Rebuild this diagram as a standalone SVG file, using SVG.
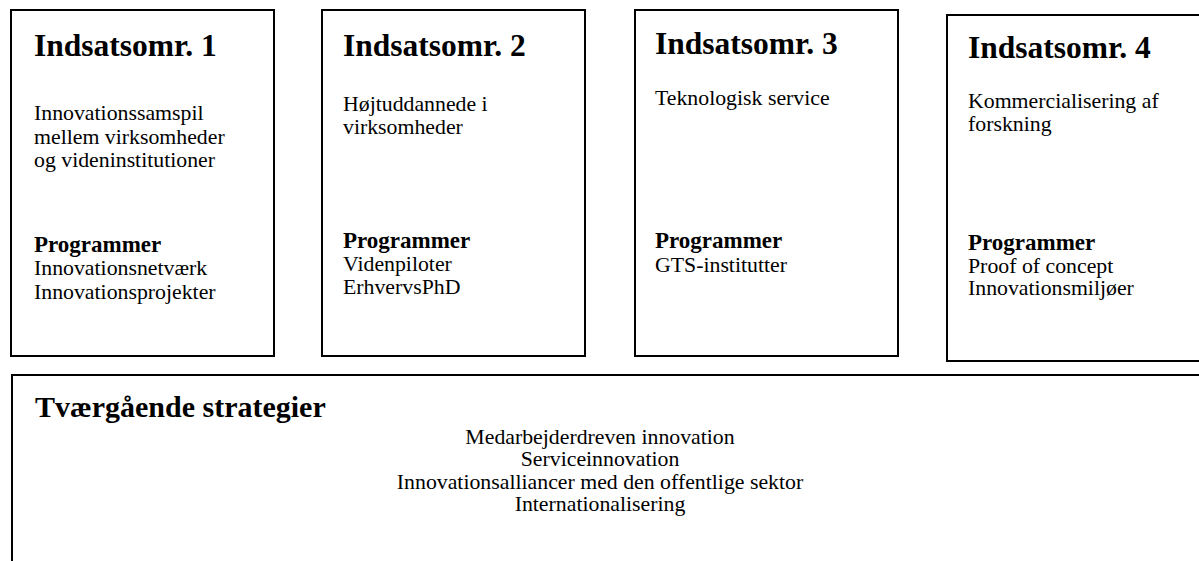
<svg xmlns="http://www.w3.org/2000/svg" width="1199" height="561" viewBox="0 0 1199 561">
<style>
.box{fill:#fff;stroke:#000;stroke-width:2}
.t{font-family:"Liberation Serif","Times New Roman",serif;fill:#000}
.h{font-size:31.5px;font-weight:bold}
.h2{font-size:30px;font-weight:bold}
.b{font-size:21.8px}
.p{font-size:23px;font-weight:bold}
.c{text-anchor:middle}
</style>
<rect width="1199" height="561" fill="#fff"/>
<g id="omr1">
<rect class="box" x="11" y="10" width="263" height="346"/>
<text class="t h" x="34" y="56">Indsatsomr. 1</text>
<text class="t b" x="34" y="120">Innovationssamspil</text>
<text class="t b" x="34" y="143.5">mellem virksomheder</text>
<text class="t b" x="34" y="167">og videninstitutioner</text>
<text class="t p" x="34" y="252">Programmer</text>
<text class="t b" x="34" y="275">Innovationsnetværk</text>
<text class="t b" x="34" y="299">Innovationsprojekter</text>
</g>
<g id="omr2">
<rect class="box" x="322" y="10" width="263" height="346"/>
<text class="t h" x="343" y="56">Indsatsomr. 2</text>
<text class="t b" x="343" y="111">Højtuddannede i</text>
<text class="t b" x="343" y="134">virksomheder</text>
<text class="t p" x="343" y="248">Programmer</text>
<text class="t b" x="343" y="271">Videnpiloter</text>
<text class="t b" x="343" y="294">ErhvervsPhD</text>
</g>
<g id="omr3">
<rect class="box" x="635" y="10" width="263" height="346"/>
<text class="t h" x="655" y="54">Indsatsomr. 3</text>
<text class="t b" x="655" y="105">Teknologisk service</text>
<text class="t p" x="655" y="248">Programmer</text>
<text class="t b" x="655" y="272">GTS-institutter</text>
</g>
<g id="omr4">
<rect class="box" x="947" y="15" width="262" height="346"/>
<text class="t h" x="968" y="58">Indsatsomr. 4</text>
<text class="t b" x="968" y="108">Kommercialisering af</text>
<text class="t b" x="968" y="131">forskning</text>
<text class="t p" x="968" y="250">Programmer</text>
<text class="t b" x="968" y="273">Proof of concept</text>
<text class="t b" x="968" y="295">Innovationsmiljøer</text>
</g>
<g id="tvaergaaende">
<rect class="box" x="12" y="375" width="1197" height="200"/>
<text class="t h2" x="35" y="417">Tværgående strategier</text>
<text class="t b c" x="600" y="444">Medarbejderdreven innovation</text>
<text class="t b c" x="600" y="466">Serviceinnovation</text>
<text class="t b c" x="600" y="489">Innovationsalliancer med den offentlige sektor</text>
<text class="t b c" x="600" y="511">Internationalisering</text>
</g>
<g id="connectors"/>
</svg>
